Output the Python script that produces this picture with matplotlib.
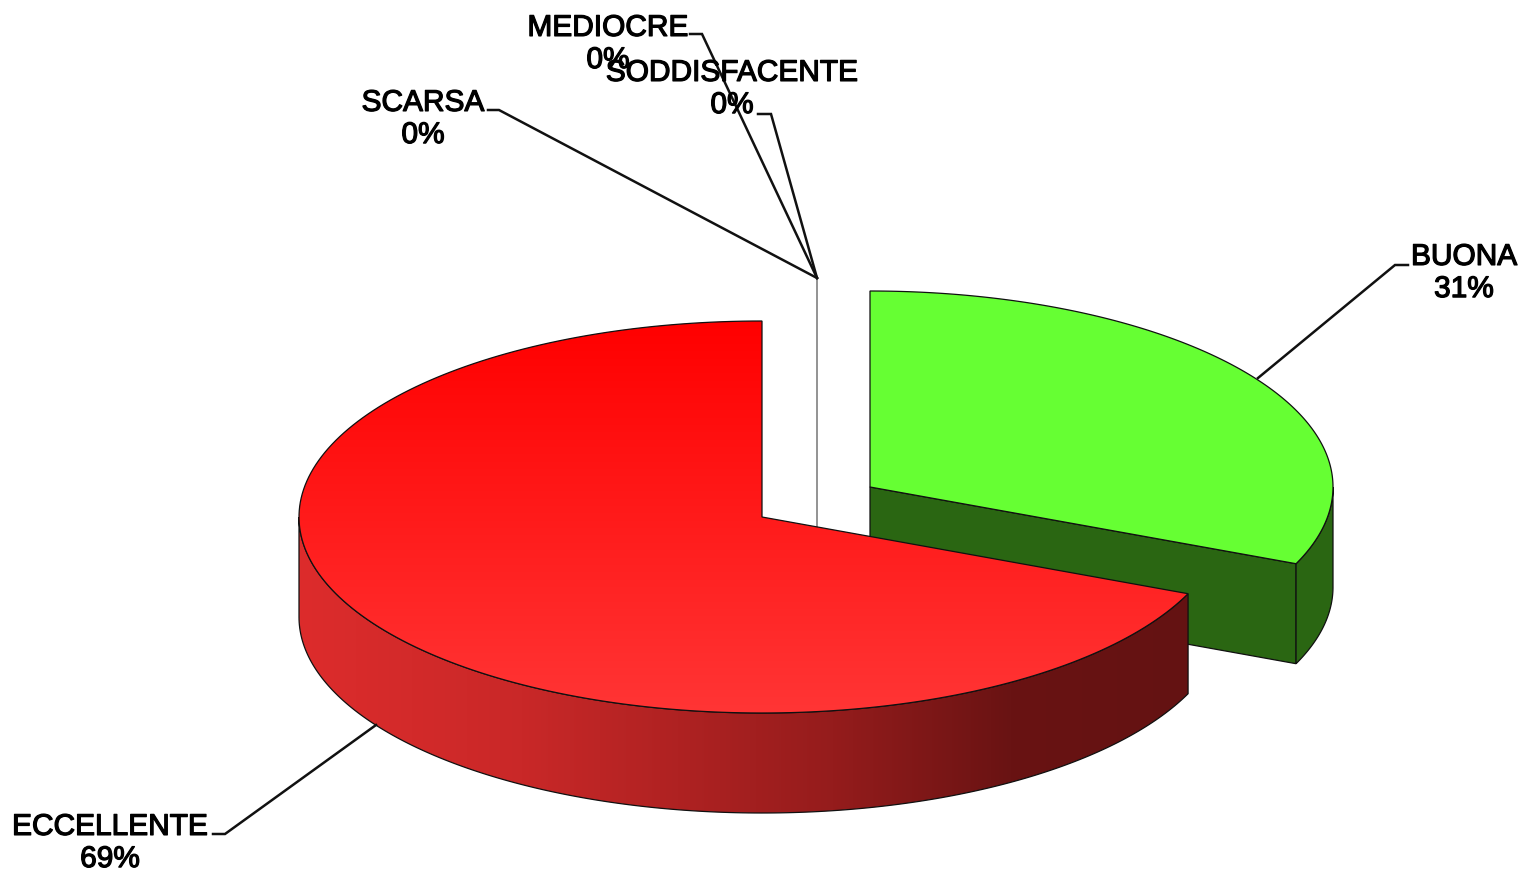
import matplotlib
matplotlib.use("Agg")
import matplotlib.pyplot as plt
import matplotlib.patheffects as pe
import numpy as np
from matplotlib.patches import Polygon

# Dati del grafico
labels = ["BUONA", "ECCELLENTE", "SCARSA", "MEDIOCRE", "SODDISFACENTE"]
values = [31.4, 68.6, 0, 0, 0]

# geometria della torta in pixel
RX, RY, DEPTH = 463, 196, 100
RED_C = (762, 517)
GREEN_C = (870, 487)
ZERO_C = (817, 474)

total = sum(values)
ends = np.cumsum(values) / total * 360
t_buona = ends[0]


def rim(center, a, b, n=200):
    t = np.radians(np.linspace(a, b, n))
    return np.column_stack([center[0] + RX * np.sin(t), center[1] - RY * np.cos(t)])


def gradient(ax, patch, colors, stops, extent, vertical=False):
    c = np.array([matplotlib.colors.to_rgb(k) for k in colors])
    s = np.linspace(0, 1, 256)
    img = np.column_stack([np.interp(s, stops, c[:, i]) for i in range(3)])
    img = img[:, None, :] if vertical else img[None, :, :]
    im = ax.imshow(img, extent=extent, aspect="auto", zorder=patch.get_zorder(), interpolation="bilinear")
    im.set_clip_path(patch)


def side(center, a, b):
    top = rim(center, a, b)
    bottom = top[::-1] + [0, DEPTH]
    return np.vstack([top, bottom])


fig = plt.figure(figsize=(15.25, 8.72), dpi=100)
ax = fig.add_axes([0, 0, 1, 1])
ax.axis("off")

EDGE = "#101010"
LW = 0.9

# fetta a zero (solo una linea)
ax.plot([ZERO_C[0], ZERO_C[0]], [ZERO_C[1] - RY, ZERO_C[1] + DEPTH], color="#8a8a8a", lw=1.3, zorder=1)

# BUONA
gx, gy = GREEN_C
end_g = rim(GREEN_C, t_buona, t_buona, 1)[0]
ax.add_patch(Polygon([(gx, gy), end_g, end_g + [0, DEPTH], (gx, gy + DEPTH)],
                     fc="#2a6612", ec=EDGE, lw=LW, zorder=2))
ax.add_patch(Polygon(side(GREEN_C, 90, t_buona), fc="#2a6612", ec=EDGE, lw=LW, zorder=2))
ax.add_patch(Polygon(np.vstack([[gx, gy], rim(GREEN_C, 0, t_buona)]), fc="#66ff33", ec=EDGE, lw=LW, zorder=3))

# ECCELLENTE
rx0, ry0 = RED_C
side_red = Polygon(side(RED_C, t_buona, 270), fc="none", ec="none", zorder=4)
ax.add_patch(side_red)
gradient(ax, side_red, ["#dd2c2c", "#c92828", "#951c1c", "#691313", "#641212"], [0, 0.25, 0.6, 0.8, 1],
         (rx0 - RX, rx0 + RX - 35, ry0 + RY + DEPTH, ry0), vertical=False)
ax.add_patch(Polygon(side(RED_C, t_buona, 270), fc="none", ec=EDGE, lw=LW, zorder=5))

top_pts = np.vstack([[rx0, ry0], rim(RED_C, t_buona, 360)])
top_red = Polygon(top_pts, fc="none", ec="none", zorder=6)
ax.add_patch(top_red)
gradient(ax, top_red, ["#ff0000", "#ff3535"], [0, 1],
         (rx0 - RX, rx0 + RX, ry0 + RY, ry0 - RY), vertical=True)
ax.add_patch(Polygon(top_pts, fc="none", ec=EDGE, lw=LW, zorder=7))

# linee guida
leaders = [
    [(1408, 265), (1395, 265), (1258, 378)],
    [(213, 834), (225, 834), (376, 725)],
    [(488, 110), (499, 110), (817, 278)],
    [(690, 34), (702, 34), (817, 278)],
    [(758, 114), (771, 114), (817, 278)],
]
for pts in leaders:
    xs, ys = zip(*pts)
    ax.plot(xs, ys, color="#111111", lw=1.8, zorder=8, solid_joinstyle="miter")

# etichette
label_pos = [(1464, 273), (110, 843), (423, 119), (608, 44), (732, 89)]
for name, v, (x, y) in zip(labels, values, label_pos):
    ax.text(x, y, f"{name}\n{v:.0f}%", ha="center", va="center", fontsize=21.5, fontweight="normal",
            family="Liberation Sans", color="black", linespacing=1.19, zorder=9,
            path_effects=[pe.withStroke(linewidth=0.9, foreground="black")])

ax.set_xlim(0, 1525)
ax.set_ylim(872, 0)
fig.savefig("out.png", dpi=100, facecolor="white")
